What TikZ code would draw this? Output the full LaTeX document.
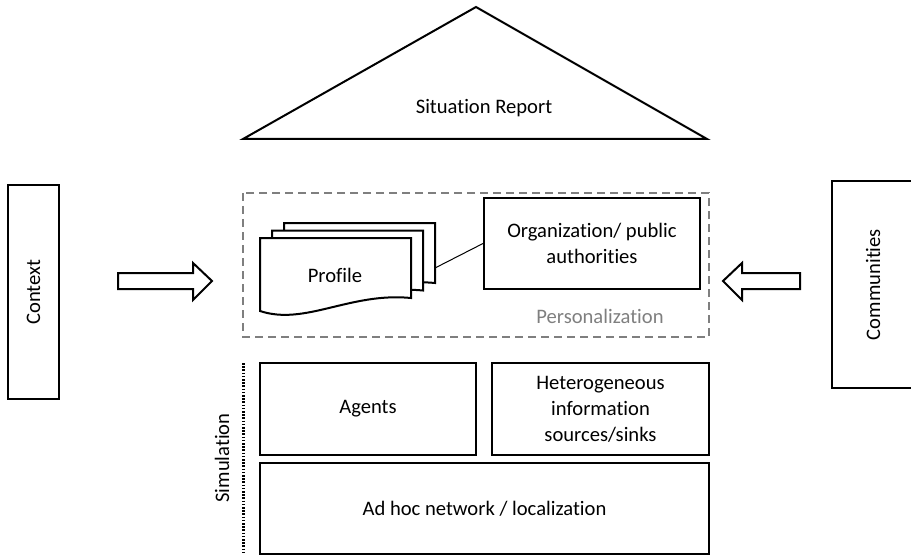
\documentclass[tikz,border=0pt]{standalone}
\usepackage{fontspec}
\setmainfont{Carlito}[Ligatures=NoCommon]
\definecolor{persgray}{HTML}{7F7F7F}
\tikzset{
  box/.style={draw, line width=1pt, inner sep=0pt, align=center, fill=white},
  doc/.style={draw, line width=1pt, fill=white},
  fatarrow/.style={draw, line width=1pt, line join=miter},
  persline/.style={draw=persgray, line width=1pt, dash pattern=on 4pt off 2.5pt},
}
\begin{document}
\begin{tikzpicture}[x=0.5pt,y=-0.5pt]\fontsize{10.3}{13}\selectfont
\useasboundingbox (0,0) rectangle (911,556);
% roof
\draw[line width=1pt, line join=miter] (243,139) -- (476,7) -- (707,139) -- cycle;
\node (report) at (484,108) {Situation Report};
% side boxes
\node[box, rotate=90, minimum width=107pt, minimum height=25.5pt] (context) at (33.5,292) {Context};
\node[box, rotate=90, minimum width=103.5pt, minimum height=41pt] (communities) at (873,284.5) {Communities};
% arrows
\draw[fatarrow] (118,273) -- (193,273) -- (193,263) -- (212,281) -- (193,300) -- (193,289) -- (118,289) -- cycle;
\draw[fatarrow] (800,273) -- (742,273) -- (742,263) -- (723,281) -- (742,300) -- (742,289) -- (800,289) -- cycle;
% personalization
\draw[persline] (243,193) rectangle (709,337);
\node[text=persgray] (perslabel) at (600,316) {Personalization};
\foreach \s in {2,1,0}
  \draw[doc, shift={(12*\s,-7.5*\s)}] (260,238) -- (411,238) -- (411,298)
    .. controls (350,292) and (305,326) .. (260,311) -- cycle;
\node (profile) at (335,275) {Profile};
\coordinate (profileedge) at (435,268);
\node[box, minimum width=108pt, minimum height=45.5pt] (org) at (592,243.5) {Organization/ public\\authorities};
\draw[line width=0.5pt] (profileedge) -- (org.west);
% simulation
\node[box, minimum width=108pt, minimum height=46pt] (agents) at (368,409) {Agents};
\node[box, minimum width=108.5pt, minimum height=46pt] (sources) at (600.5,409) {Heterogeneous\\information\\sources/sinks};
\node[box, minimum width=224.5pt, minimum height=45.5pt] (network) at (484.5,508.5) {Ad hoc network / localization};
\draw[line width=1.5pt, dash pattern=on 0.8pt off 0.8pt] (243,363) -- (243,553);
\node[rotate=90] (simulation) at (222,458) {Simulation};
\end{tikzpicture}
\end{document}
